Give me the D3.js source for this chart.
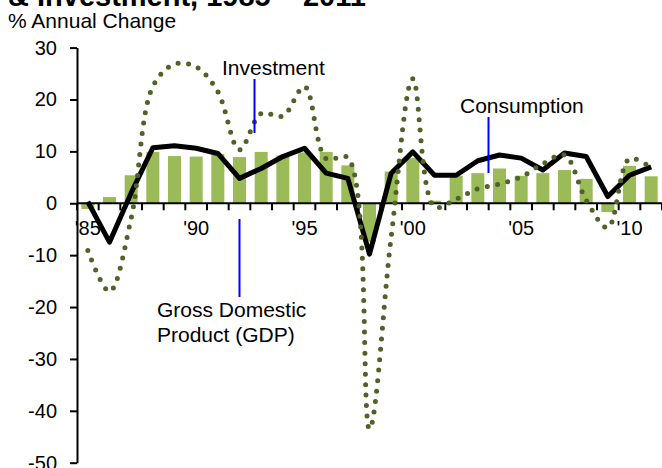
<!DOCTYPE html>
<html>
<head>
<meta charset="utf-8">
<script src="https://cdn.jsdelivr.net/npm/d3@7"></script>
<style>
  body { margin: 0; background: #fff; }
  svg { display: block; font-family: "Liberation Sans", Arial, sans-serif; }
</style>
</head>
<body>
<script>
// annual % change
var years = [1985, 1986, 1987, 1988, 1989, 1990, 1991, 1992, 1993, 1994,
             1995, 1996, 1997, 1998, 1999, 2000, 2001, 2002, 2003, 2004,
             2005, 2006, 2007, 2008, 2009, 2010, 2011];
var gdp = [-1.1, 1.2, 5.4, 9.9, 9.1, 9.0, 9.5, 8.9, 9.9, 9.2,
           9.8, 9.9, 7.3, -7.4, 6.1, 8.7, 0.5, 5.3, 5.8, 6.7,
           5.3, 5.8, 6.4, 4.7, -1.7, 7.2, 5.2];
var consumption = [0.3, -7.5, 2.0, 10.7, 11.1, 10.6, 9.6, 4.8, 6.7, 9.0,
                   10.6, 5.8, 4.8, -9.8, 5.8, 9.9, 5.4, 5.4, 8.2, 9.3,
                   8.7, 6.4, 9.7, 9.0, 1.3, 5.4, 7.0];
var investment = [-9.1, -17.0, -2.9, 22.5, 26.8, 26.3, 21.5, 10.3, 17.3, 16.8,
                  22.5, 8.6, 8.8, -43.5, -6.5, 24.0, -0.7, 0.8, 2.8, 3.7,
                  5.1, 7.6, 9.3, 0.6, -4.7, 8.6, 6.8];
var yTicks = [-50, -40, -30, -20, -10, 0, 10, 20, 30];
var xLabels = {1985: "'85", 1990: "'90", 1995: "'95", 2000: "'00", 2005: "'05", 2010: "'10"};

var W = 662, H = 468;
var plot = {left: 77, right: 662, top: 47.6, bottom: 462.7};

var svg = d3.select("body").append("svg")
    .attr("width", W)
    .attr("height", H);

var x = d3.scaleBand()
    .domain(years)
    .range([plot.left, plot.right])
    .paddingInner(0.4)
    .paddingOuter(0.2);
var y = d3.scaleLinear().domain([-50, 30]).range([plot.bottom, plot.top]);
var cx = function(yr) { return x(yr) + x.bandwidth() / 2; };

// title (only its lower edge shows in the frame)
svg.append("text")
    .attr("x", 8).attr("y", 6)
    .style("font-size", "29px").style("font-weight", "bold")
    .text("& Investment, 1985 \u2013 2011");

svg.append("text")
    .attr("x", 8).attr("y", 28)
    .style("font-size", "21px")
    .text("% Annual Change");

// GDP bars
svg.append("g").selectAll("rect")
    .data(years)
  .enter().append("rect")
    .attr("x", function(d) { return x(d); })
    .attr("width", x.bandwidth())
    .attr("y", function(d, i) { return y(Math.max(0, gdp[i])); })
    .attr("height", function(d, i) { return Math.abs(y(gdp[i]) - y(0)); })
    .attr("fill", "#9BBB59");

// y axis
var yAxis = svg.append("g")
    .attr("transform", "translate(" + plot.left + ",0)")
    .call(d3.axisLeft(y).tickValues(yTicks).tickFormat(String)
      .tickSize(7).tickPadding(13).tickSizeOuter(0));
yAxis.select(".domain").attr("stroke-width", 2);
yAxis.selectAll(".tick line").attr("stroke-width", 2);
yAxis.selectAll("text").style("font-size", "20px").attr("fill", "#000")
    .style("font-family", "'Liberation Sans', Arial, sans-serif");

// x axis at zero, ticks between categories
var step = x.step();
var xg = svg.append("g");
xg.append("line")
    .attr("x1", plot.left).attr("x2", plot.right)
    .attr("y1", y(0)).attr("y2", y(0))
    .attr("stroke", "#000").attr("stroke-width", 2);
xg.selectAll(".xt")
    .data(d3.range(years.length + 1))
  .enter().append("line")
    .attr("x1", function(i) { return plot.left + i * step; })
    .attr("x2", function(i) { return plot.left + i * step; })
    .attr("y1", y(0)).attr("y2", y(0) + 7)
    .attr("stroke", "#000").attr("stroke-width", 2);
xg.selectAll(".xl")
    .data(years.filter(function(d) { return xLabels[d]; }))
  .enter().append("text")
    .attr("x", cx)
    .attr("y", y(0) + 32)
    .attr("text-anchor", "middle")
    .style("font-size", "20px")
    .text(function(d) { return xLabels[d]; });

// consumption line
var line = d3.line()
    .x(function(d, i) { return cx(years[i]); })
    .y(function(d) { return y(d); });
svg.append("path")
    .datum(consumption)
    .attr("d", line)
    .attr("fill", "none")
    .attr("stroke", "#000")
    .attr("stroke-width", 5)
    .attr("stroke-linejoin", "round");

// investment, smoothed round-dot line
svg.append("path")
    .datum(investment)
    .attr("d", line.curve(d3.curveCatmullRom.alpha(0.5)))
    .attr("fill", "none")
    .attr("stroke", "#4F6228")
    .attr("stroke-width", 5)
    .attr("stroke-linecap", "round")
    .attr("stroke-dasharray", "0,10.5");

// callouts
var notes = [
  {lines: ["Investment"], tx: 222, ty: 75, lx: 254.5, ly1: 79, ly2: 133},
  {lines: ["Consumption"], tx: 460, ty: 113, lx: 488.5, ly1: 117, ly2: 173},
  {lines: ["Gross Domestic", "Product (GDP)"], tx: 157, ty: 317, lx: 239.5, ly1: 219, ly2: 297}
];
notes.forEach(function(n) {
  svg.append("line")
      .attr("x1", n.lx).attr("x2", n.lx)
      .attr("y1", n.ly1).attr("y2", n.ly2)
      .attr("stroke", "#0000FF").attr("stroke-width", 2);
  var t = svg.append("text")
      .attr("x", n.tx).attr("y", n.ty)
      .style("font-size", "21px");
  n.lines.forEach(function(s, i) {
    t.append("tspan").attr("x", n.tx).attr("dy", i ? 25 : 0).text(s);
  });
});
</script>
</body>
</html>
